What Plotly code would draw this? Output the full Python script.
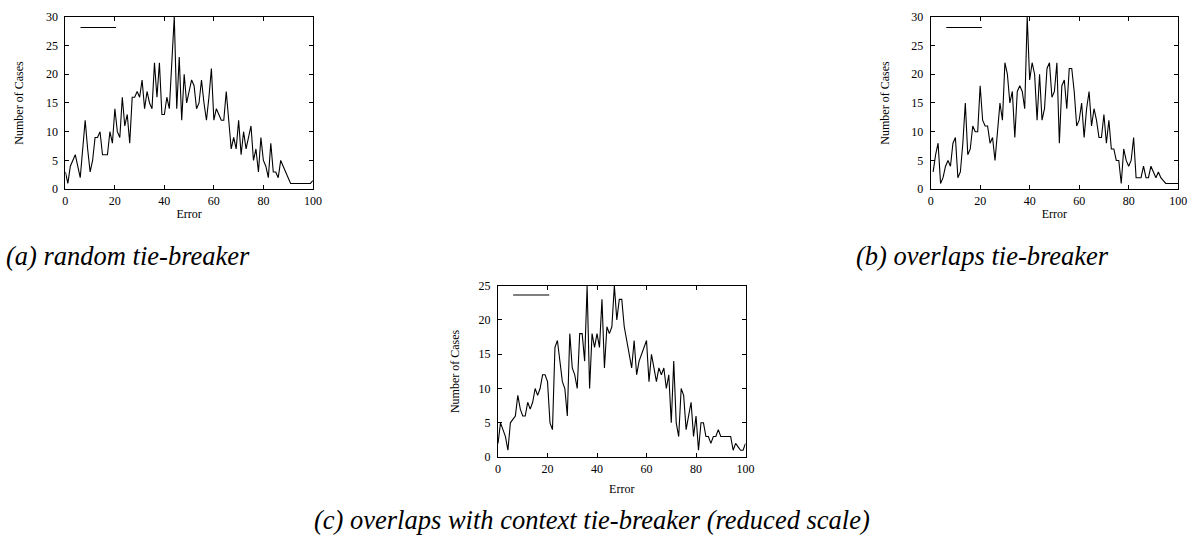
import plotly.graph_objects as go

# ---------------- data ----------------
error_a = list(range(0, 101))
cases_a = [3, 1, 4, 5, 6, 4, 2, 7, 12, 7,
           3, 5, 9, 9, 10, 6, 6, 6, 10, 8,
           14, 10, 9, 16, 11, 13, 8, 16, 16, 17,
           16, 19, 14, 17, 15, 14, 22, 16, 22, 13,
           13, 16, 14, 22, 30, 14, 23, 12, 20, 15,
           17, 19, 18, 14, 15, 19, 15, 12, 16, 21,
           12, 14, 13, 12, 12, 17, 12, 7, 9, 7,
           12, 6, 10, 7, 9, 11, 5, 7, 3, 9,
           5, 4, 2, 8, 3, 3, 2, 5, 4, 3,
           2, 1, 1, 1, 1, 1, 1, 1, 1, 1,
           1.5]

error_b = list(range(1, 101))
cases_b = [3, 6, 8, 1, 2, 4, 5, 4, 8,
           9, 2, 3, 8, 15, 6, 7, 11, 10, 10,
           18, 12, 11, 11, 8, 9, 5, 10, 15, 12,
           22, 20, 15, 17, 9, 17, 18, 17, 14, 30,
           19, 22, 20, 12, 20, 12, 14, 21, 22, 16,
           17, 22, 8, 18, 19, 14, 21, 21, 17, 11,
           12, 15, 9, 14, 17, 11, 14, 12, 9, 9,
           13, 8, 12, 7, 7, 5, 5, 1, 7, 5,
           4, 5, 9, 2, 2, 2, 4, 2, 2, 4,
           3, 2, 3, 2, 1.5, 1, 1, 1, 1, 1,
           1]

error_c = list(range(0, 101))
cases_c = [2, 5, 4, 3, 1, 5, 5.5, 6, 9, 7,
           6, 6, 8, 7, 8, 10, 9, 10, 12, 12,
           11, 5, 4, 16, 17, 14, 11, 10, 6, 18,
           13, 12, 10, 18, 18, 14, 25, 10, 18, 16,
           18, 16, 23, 13, 19, 18, 19, 25, 20, 23,
           23, 19, 17, 15, 13, 17, 12, 14, 15, 16,
           17, 11, 15, 13, 11, 13, 12, 13, 10, 12,
           5, 14, 5, 3, 10, 9, 4, 6, 8, 3,
           6, 1, 5, 5, 3, 3, 2, 3, 3, 4,
           3, 3, 3, 3, 3, 1, 2, 1.5, 1, 1,
           2]

x_ticks = [0, 20, 40, 60, 80, 100]
captions = ["(a) random tie-breaker",
            "(b) overlaps tie-breaker",
            "(c) overlaps with context tie-breaker (reduced scale)"]

# ---------------- layout helpers ----------------
W, H = 1204, 544
FONT = "Liberation Serif"


def px_dom_x(left, right):
    return [left / W, right / W]


def px_dom_y(top, bottom):
    return [1 - bottom / H, 1 - top / H]


def xaxis(dom, anchor, standoff):
    return dict(domain=dom, anchor=anchor, range=[0, 100], tickvals=x_ticks,
                ticks="inside", ticklen=4, tickcolor="black", mirror="ticks",
                showline=True, linecolor="black", linewidth=1, showgrid=False,
                zeroline=False, tickfont=dict(family=FONT, size=12, color="black"),
                ticklabelstandoff=0,
                title=dict(text="Error", standoff=standoff,
                           font=dict(family=FONT, size=12, color="black")))


def yaxis(dom, anchor, ymax, standoff):
    return dict(domain=dom, anchor=anchor, range=[0, ymax], dtick=5,
                ticks="inside", ticklen=4, tickcolor="black", mirror="ticks",
                showline=True, linecolor="black", linewidth=1, showgrid=False,
                zeroline=False, tickfont=dict(family=FONT, size=12, color="black"),
                ticklabelstandoff=4,
                title=dict(text="Number of Cases", standoff=standoff,
                           font=dict(family=FONT, size=12, color="black")))


fig = go.Figure()
line = dict(color="black", width=1.1)
fig.add_trace(go.Scatter(x=error_a, y=cases_a, mode="lines", line=line,
                         xaxis="x", yaxis="y", showlegend=False))
fig.add_trace(go.Scatter(x=error_b, y=cases_b, mode="lines", line=line,
                         xaxis="x2", yaxis="y2", showlegend=False))
fig.add_trace(go.Scatter(x=error_c, y=cases_c, mode="lines", line=line,
                         xaxis="x3", yaxis="y3", showlegend=False))

# key sample lines (gnuplot key with empty title)
shapes = []
for xr, yr, x0, x1, yy in [("x domain", "y domain", 0.061, 0.205, 0.938),
                           ("x2 domain", "y2 domain", 0.063, 0.207, 0.938),
                           ("x3 domain", "y3 domain", 0.061, 0.207, 0.945)]:
    shapes.append(dict(type="line", xref=xr, yref=yr, x0=x0, x1=x1, y0=yy, y1=yy,
                       line=dict(color="black", width=1.1)))

cap_font = dict(family=FONT, size=26.5, color="black", style="italic")
annotations = [
    dict(text=captions[0], xref="paper", yref="paper", x=126.5 / W, y=1 - 256 / H,
         showarrow=False, xanchor="center", yanchor="middle", font=cap_font),
    dict(text=captions[1], xref="paper", yref="paper", x=989 / W, y=1 - 256 / H,
         showarrow=False, xanchor="center", yanchor="middle", font=cap_font),
    dict(text=captions[2], xref="paper", yref="paper", x=594.5 / W, y=1 - 527 / H,
         showarrow=False, xanchor="center", yanchor="middle", font=cap_font),
]

fig.update_layout(
    width=W, height=H,
    margin=dict(l=0, r=0, t=0, b=0),
    paper_bgcolor="white", plot_bgcolor="white",
    xaxis=xaxis(px_dom_x(63, 313), "y", 3),
    yaxis=yaxis(px_dom_y(10, 187), "x", 30, 19),
    xaxis2=xaxis(px_dom_x(937, 1187), "y2", 3),
    yaxis2=yaxis(px_dom_y(10, 187), "x2", 30, 19),
    xaxis3=xaxis(px_dom_x(500, 750), "y3", 10),
    yaxis3=yaxis(px_dom_y(286, 462), "x3", 25, 16),
    shapes=shapes,
    annotations=annotations,
    showlegend=False,
)

fig.write_html("out.html")
